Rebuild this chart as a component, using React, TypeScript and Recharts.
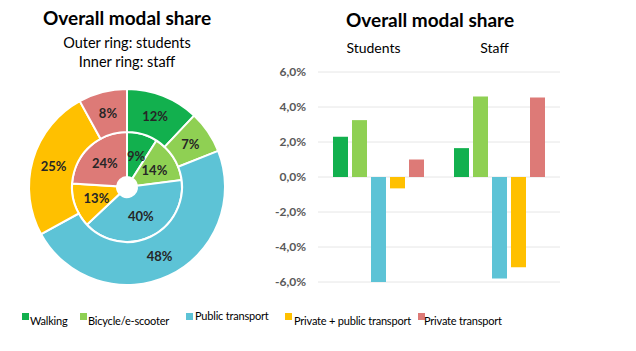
import { PieChart, Pie, Cell, BarChart, Bar, XAxis, YAxis, CartesianGrid } from "recharts";

const MODES = ["Walking", "Bicycle/e-scooter", "Public transport", "Private + public transport", "Private transport"];
const COLORS = ["#12B04E", "#8FD053", "#5DC3D6", "#FFC000", "#DD7A77"];

// modal share in percent, starting at 12 o'clock, clockwise
const STUDENT_SHARE = [12, 7, 48, 25, 8];
const STAFF_SHARE = [9, 14, 40, 13, 24];

// change in percentage points
const GROUPS = ["Students", "Staff"];
const WALKING = [2.3, 1.65];
const BICYCLE = [3.25, 4.6];
const PUBLIC = [-6.0, -5.8];
const PRIV_PUB = [-0.65, -5.15];
const PRIVATE = [1.0, 4.55];

const Y_TICKS = [-6, -4, -2, 0, 2, 4, 6];

const FONT = "Lato, 'Open Sans', sans-serif";

const RADIAN = Math.PI / 180;

function sliceLabel(props: any) {
    const { cx, cy, midAngle, innerRadius, outerRadius, value } = props;
    const r = (innerRadius + outerRadius) / 2;
    const x = cx + r * Math.cos(-midAngle * RADIAN);
    const y = cy + r * Math.sin(-midAngle * RADIAN);
    return (
        <text x={x} y={y} textAnchor="middle" dominantBaseline="central" fontSize={13} fontWeight={700} fill="#262626" fontFamily={FONT}>
            {`${value}%`}
        </text>
    );
}

export default function App() {

    const outer = MODES.map((m, i) => ({ name: m, value: STUDENT_SHARE[i] }));
    const inner = MODES.map((m, i) => ({ name: m, value: STAFF_SHARE[i] }));

    const bars = GROUPS.map((g, i) => ({
        group: g,
        walking: WALKING[i],
        bicycle: BICYCLE[i],
        publicT: PUBLIC[i],
        privPub: PRIV_PUB[i],
        privateT: PRIVATE[i],
    }));
    const barKeys = ["walking", "bicycle", "publicT", "privPub", "privateT"];

    return (
        <div style={{ position: "absolute", left: 0, top: 0, width: 636, height: 351, background: "#fff", fontFamily: FONT }}>
            {/* left: doughnut */}
            <div style={{ position: "absolute", left: 0, top: 6, width: 254, textAlign: "center", fontSize: 19, fontWeight: 700, color: "#000" }}>
                Overall modal share
            </div>
            <div style={{ position: "absolute", left: 0, top: 34, width: 254, textAlign: "center", fontSize: 14.5, color: "#000" }}>
                Outer ring: students
            </div>
            <div style={{ position: "absolute", left: 0, top: 53, width: 254, textAlign: "center", fontSize: 14.5, color: "#000" }}>
                Inner ring: staff
            </div>
            <div style={{ position: "absolute", left: 0, top: 80 }}>
                <PieChart width={254} height={214} margin={{ top: 0, right: 0, bottom: 0, left: 0 }}>
                    <Pie data={inner} dataKey="value" cx={127} cy={107} innerRadius={10} outerRadius={55} startAngle={90} endAngle={-270}
                        stroke="#fff" strokeWidth={2} label={sliceLabel} labelLine={false} isAnimationActive={false}>
                        {inner.map((d, i) => <Cell key={d.name} fill={COLORS[i]} />)}
                    </Pie>
                    <Pie data={outer} dataKey="value" cx={127} cy={107} innerRadius={55} outerRadius={98} startAngle={90} endAngle={-270}
                        stroke="#fff" strokeWidth={2} label={sliceLabel} labelLine={false} isAnimationActive={false}>
                        {outer.map((d, i) => <Cell key={d.name} fill={COLORS[i]} />)}
                    </Pie>
                </PieChart>
            </div>

            {/* right: change bars */}
            <div style={{ position: "absolute", left: 300, top: 8, width: 260, textAlign: "center", fontSize: 19, fontWeight: 700, color: "#000" }}>
                Overall modal share
            </div>
            <div style={{ position: "absolute", left: 260, top: 0 }}>
                <BarChart width={376} height={300} data={bars} margin={{ top: 42, right: 76, bottom: 18, left: 0 }} barSize={15} barGap={4}>
                    <CartesianGrid vertical={false} stroke="#e6e6e6" />
                    <XAxis dataKey="group" orientation="top" height={30} axisLine={false} tickLine={false} tickMargin={13}
                        tick={{ fontSize: 14, fill: "#000", fontFamily: FONT, dx: -5 }} />
                    <YAxis domain={[-6, 6]} ticks={Y_TICKS} width={58} axisLine={false} tickLine={false} tickMargin={6}
                        tickFormatter={(v: number) => `${v.toFixed(1).replace(".", ",")}%`}
                        tick={{ fontSize: 12, fill: "#595959", fontFamily: FONT, fontWeight: 700 }} />
                    {barKeys.map((k, i) => (
                        <Bar key={k} dataKey={k} fill={COLORS[i]} isAnimationActive={false} />
                    ))}
                </BarChart>
            </div>

            {/* legend */}
            {MODES.map((m, i) => {
                const pos = [[22, 30], [80, 88], [186, 195], [285, 294], [418, 424]][i];
                const top = i === 2 ? 309 : 314;
                return (
                    <div key={m}>
                        <div style={{ position: "absolute", left: pos[0], top: 313, width: 7, height: 7, background: COLORS[i] }} />
                        <div style={{ position: "absolute", left: pos[1], top, fontSize: 11, letterSpacing: -0.2, color: "#000", whiteSpace: "nowrap" }}>{m}</div>
                    </div>
                );
            })}
        </div>
    );
}
